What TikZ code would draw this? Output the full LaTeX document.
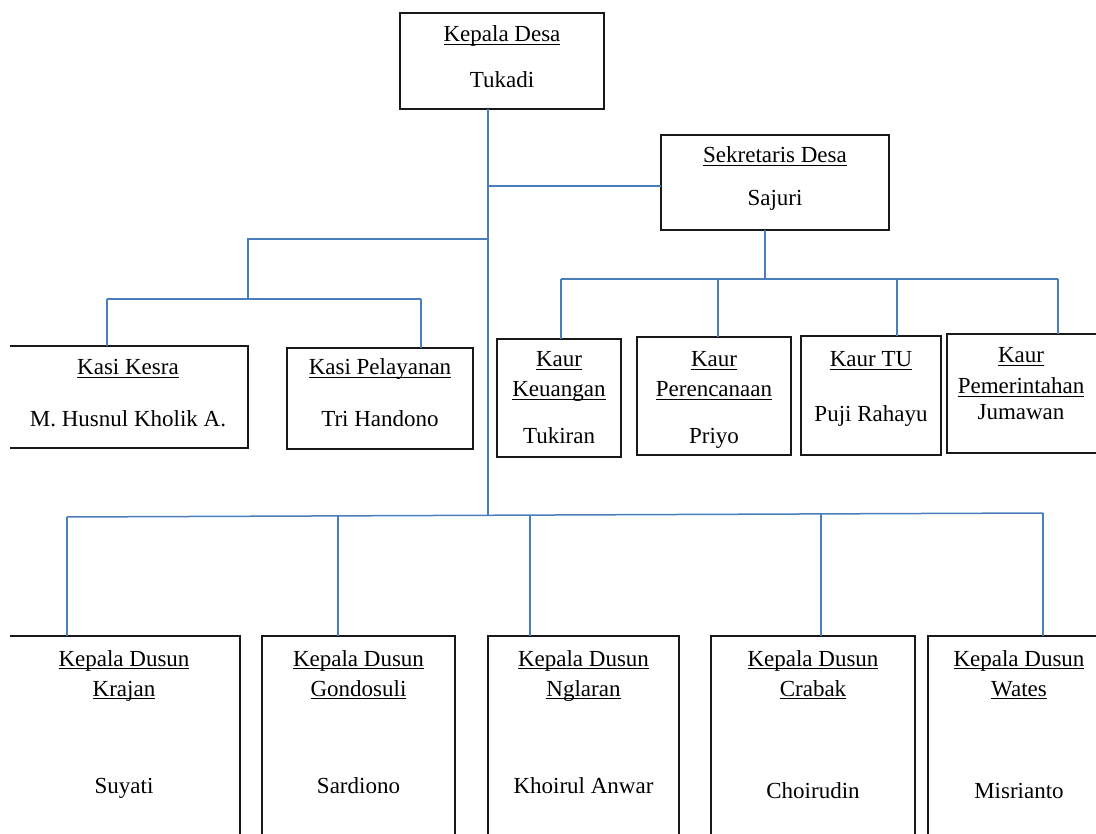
\documentclass[tikz,border=0pt]{standalone}
\usepackage{fontspec}
\setmainfont{Liberation Serif}
\newsavebox{\myulbox}
\newcommand{\myul}[1]{\sbox\myulbox{#1}\rlap{\vrule width\wd\myulbox height -1.6pt depth 3.0pt}\usebox\myulbox}
\definecolor{linkblue}{RGB}{74,126,187}
\begin{document}
\begin{tikzpicture}[x=1pt,y=-1pt,
  box/.style={draw=black!90, line width=1.5pt, fill=none, inner sep=0pt, outer sep=0pt},
  link/.style={draw=linkblue, line width=1.5pt},
  lbl/.style={anchor=base, inner sep=0pt, outer sep=0pt, font=\fontsize{23}{27}\selectfont}]
\useasboundingbox (0,0) rectangle (1096,834);
\fill[white] (0,0) rectangle (1096,834);
\clip (10,-10) rectangle (1096,850);

% boxes
\node[box, minimum width=204pt, minimum height=96pt] (kdes) at (502,61) {};
\node[box, minimum width=228pt, minimum height=95pt] (sdes) at (775,182.5) {};
\node[box, minimum width=240pt, minimum height=102pt] (kkes) at (128,397) {};
\node[box, minimum width=186pt, minimum height=101pt] (kpel) at (380,398.5) {};
\node[box, minimum width=124pt, minimum height=118pt] (kkeu) at (559,398) {};
\node[box, minimum width=154pt, minimum height=118pt] (kper) at (714,396) {};
\node[box, minimum width=140pt, minimum height=119pt] (ktu) at (871,395.5) {};
\node[box, minimum width=160pt, minimum height=119pt] (kpem) at (1027,393.5) {};
\node[box, minimum width=232pt, minimum height=224pt] (dkra) at (124,748) {};
\node[box, minimum width=193pt, minimum height=224pt] (dgon) at (358.5,748) {};
\node[box, minimum width=191pt, minimum height=224pt] (dngl) at (583.5,748) {};
\node[box, minimum width=204pt, minimum height=224pt] (dcra) at (813,748) {};
\node[box, minimum width=182pt, minimum height=224pt] (dwat) at (1019,748) {};

% connector points
\coordinate (trunk) at (488,515.3);
\coordinate (jsek) at (488,186);
\coordinate (jleft) at (488,239);
\coordinate (lbend) at (248,239);
\coordinate (lbar) at (248,299);
\coordinate (jkes) at (107,299);
\coordinate (jpel) at (421,299);
\coordinate (jsd) at (765,279);
\coordinate (jkeu) at (561,279);
\coordinate (jper) at (718,279);
\coordinate (jtu) at (897,279);
\coordinate (jpem) at (1058,279);
\coordinate (jkra) at (67,517);
\coordinate (jgon) at (338,515.9);
\coordinate (jngl) at (530,515.1);
\coordinate (jcra) at (821,513.9);
\coordinate (jwat) at (1043,513);

% connectors
\draw[link] (trunk |- kdes.south) -- (trunk);
\draw[link] (jsek) -- (jsek -| sdes.west);
\draw[link] (jleft) -- (lbend) -- (lbar);
\draw[link] (jkes) -- (jpel);
\draw[link] (jkes) -- (jkes |- kkes.north);
\draw[link] (jpel) -- (jpel |- kpel.north);
\draw[link] (jsd |- sdes.south) -- (jsd);
\draw[link] (jkeu) -- (jpem);
\draw[link] (jkeu) -- (jkeu |- kkeu.north);
\draw[link] (jper) -- (jper |- kper.north);
\draw[link] (jtu) -- (jtu |- ktu.north);
\draw[link] (jpem) -- (jpem |- kpem.north);
\draw[link] (jkra) -- (jwat);
\draw[link] (jkra) -- (jkra |- dkra.north);
\draw[link] (jgon) -- (jgon |- dgon.north);
\draw[link] (jngl) -- (jngl |- dngl.north);
\draw[link] (jcra) -- (jcra |- dcra.north);
\draw[link] (jwat) -- (jwat |- dwat.north);

% texts
\node[lbl] (kdesT) at (502,42) {\myul{Kepala Desa}};
\node[lbl] (kdesN) at (502,88) {Tukadi};
\node[lbl] (sdesT) at (775,163) {\myul{Sekretaris Desa}};
\node[lbl] (sdesN) at (775,206) {Sajuri};
\node[lbl] (kkesT) at (128,375) {\myul{Kasi Kesra}};
\node[lbl] (kkesN) at (128,427) {M. Husnul Kholik A.};
\node[lbl] (kpelT) at (380,375) {\myul{Kasi Pelayanan}};
\node[lbl] (kpelN) at (380,427) {Tri Handono};
\node[lbl] (kkeuT) at (559,367) {\myul{Kaur}};
\node[lbl] (kkeuU) at (559,397) {\myul{Keuangan}};
\node[lbl] (kkeuN) at (559,443) {Tukiran};
\node[lbl] (kperT) at (714,367) {\myul{Kaur}};
\node[lbl] (kperU) at (714,397) {\myul{Perencanaan}};
\node[lbl] (kperN) at (714,443) {Priyo};
\node[lbl] (ktuT) at (871,367) {\myul{Kaur TU}};
\node[lbl] (ktuN) at (871,422) {Puji Rahayu};
\node[lbl] (kpemT) at (1021,363) {\myul{Kaur}};
\node[lbl] (kpemU) at (1021,394) {\myul{Pemerintahan}};
\node[lbl] (kpemN) at (1021,420) {Jumawan};
\node[lbl] (dkraT) at (124,666) {\myul{Kepala Dusun}};
\node[lbl] (dkraU) at (124,696) {\myul{Krajan}};
\node[lbl] (dkraN) at (124,793) {Suyati};
\node[lbl] (dgonT) at (358.5,666) {\myul{Kepala Dusun}};
\node[lbl] (dgonU) at (358.5,696) {\myul{Gondosuli}};
\node[lbl] (dgonN) at (358.5,793) {Sardiono};
\node[lbl] (dnglT) at (583.5,666) {\myul{Kepala Dusun}};
\node[lbl] (dnglU) at (583.5,696) {\myul{Nglaran}};
\node[lbl] (dnglN) at (583.5,793) {Khoirul Anwar};
\node[lbl] (dcraT) at (813,666) {\myul{Kepala Dusun}};
\node[lbl] (dcraU) at (813,696) {\myul{Crabak}};
\node[lbl] (dcraN) at (813,798) {Choirudin};
\node[lbl] (dwatT) at (1019,666) {\myul{Kepala Dusun}};
\node[lbl] (dwatU) at (1019,696) {\myul{Wates}};
\node[lbl] (dwatN) at (1019,798) {Misrianto};
\end{tikzpicture}
\end{document}
